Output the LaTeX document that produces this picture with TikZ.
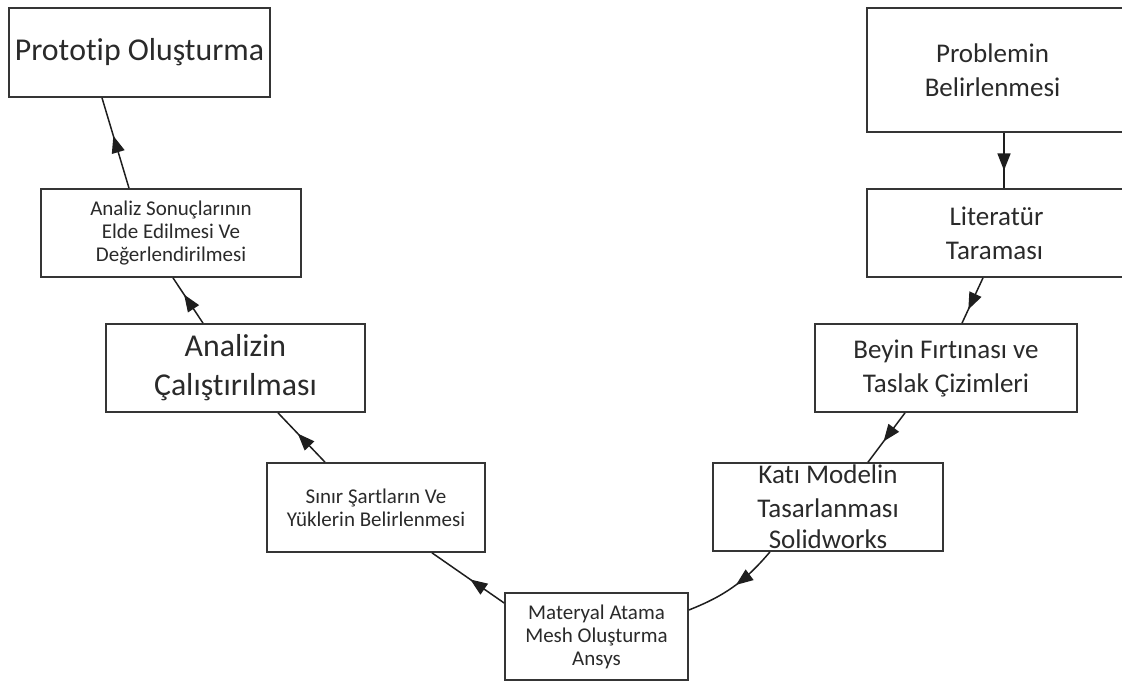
\documentclass[tikz,border=0pt]{standalone}
\usepackage{fontspec}
\setmainfont{Carlito}[Ligatures={NoCommon,NoRequired,NoContextual,NoRare},RawFeature={-liga;-clig;-dlig}]
\usetikzlibrary{arrows.meta,decorations.markings,calc}
\definecolor{boxc}{HTML}{353535}
\definecolor{txtc}{HTML}{2A2A2A}
\definecolor{linec}{HTML}{1E1E1E}
\newcommand{\nl}{\kern0pt }
\begin{document}
\begin{tikzpicture}[x=1pt,y=-1pt,
  box/.style={draw=boxc, line width=1.7pt, inner sep=0pt, align=center, text=txtc, rectangle, fill=white},
  big/.style={font=\fontsize{31.8}{39}\selectfont},
  mid/.style={font=\fontsize{27}{34}\selectfont},
  sml/.style={font=\fontsize{21}{23}\selectfont},
  flow/.style={color=linec, line width=1.5pt, postaction={decorate},
    decoration={markings, mark=at position #1 with {\arrow{Triangle[length=17pt,width=13pt]}}}},
  flow/.default=0.55
]
\useasboundingbox (0,0) rectangle (1122,682);
\clip (0,0) rectangle (1122,682);

% boxes
\node[box, big, minimum width=261pt, minimum height=89pt] (prot) at (139.5,52.5) {Prot\nl o\nl t\nl ip Oluşturma};
\node[box, sml, minimum width=260pt, minimum height=88pt] (sonuc) at (171,233) {Analiz Sonuçlarının\\Elde Edilmesi Ve\\Değerlendirilmesi};
\node[box, big, minimum width=259pt, minimum height=88pt] (anlz) at (235.5,368) {Analizin\\Çalışt\nl ırılması};
\node[box, sml, minimum width=218pt, minimum height=89pt] (sinir) at (376,507.5) {Sınır Şartların Ve\\Yüklerin Belirlenmesi};
\node[box, sml, minimum width=183pt, minimum height=87pt] (mat) at (596.5,636.5) {Materyal Atama\\Mesh Oluşturma\\Ansys};
\node[box, minimum width=230pt, minimum height=88pt,
  label={[mid, align=center, text=txtc]center:{Kat\nl ı Modelin\\[0pt]Tasarlanması\\[-3pt]Solidworks}}] (kati) at (828,507) {};
\node[box, mid, minimum width=262pt, minimum height=88pt] (beyin) at (946,368) {Beyin Fırt\nl ınası ve\\Taslak Çizimleri};
\node[box, mid, minimum width=259pt, minimum height=88pt] (lit) at (996.5,233) {Literatür\\Taraması\hspace*{4pt}};
\node[box, mid, minimum width=259pt, minimum height=124pt] (prob) at (996.5,70) {Problemin\hspace*{8pt}\\Belirlenmesi\hspace*{8pt}};

% connectors
\draw[flow=0.68] ($(prob.south)+(7.5,0)$) -- ($(lit.north)+(7.5,0)$);
\draw[flow=0.7] ($(lit.south)+(-13.5,0)$) -- ($(beyin.north)+(16,0)$);
\draw[flow=0.58] ($(beyin.south)+(-41,0)$) -- ($(kati.north)+(40,0)$);
\draw[flow=0.47] ($(kati.south)+(-58,0)$) to[bend left=14] ($(mat.east)+(0,-26.5)$);
\draw[flow=0.47] ($(mat.west)+(0,-33.5)$) -- ($(sinir.south)+(56,0)$);
\draw[flow=0.58] ($(sinir.north)+(-51,0)$) -- ($(anlz.south)+(42.5,0)$);
\draw[flow=0.63] ($(anlz.north)+(-32.5,0)$) -- ($(sonuc.south)+(2,0)$);
\draw[flow=0.58] ($(sonuc.north)+(-42,0)$) -- ($(prot.south)+(-37.5,0)$);
\end{tikzpicture}
\end{document}
